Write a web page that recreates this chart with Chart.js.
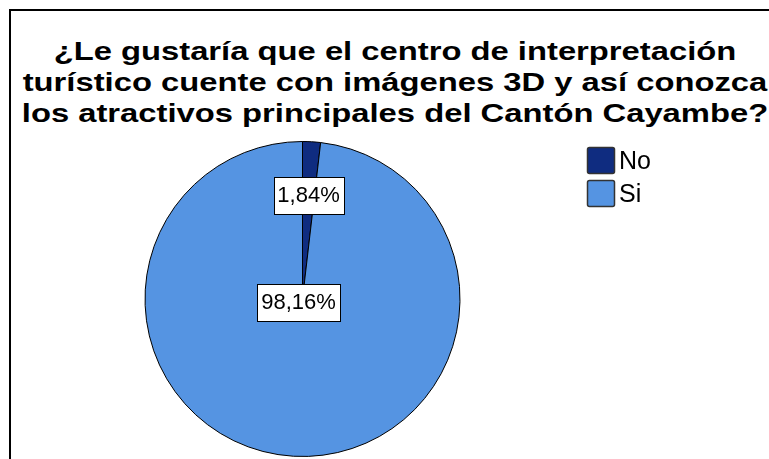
<!DOCTYPE html>
<html>
<head>
<meta charset="utf-8">
<script src="https://cdn.jsdelivr.net/npm/chart.js@4/dist/chart.umd.min.js"></script>
<style>
  html, body { margin: 0; padding: 0; background: #fff; overflow: hidden; }
  #wrap { position: relative; width: 769px; height: 459px; overflow: hidden; }
  #frame { position: absolute; left: 9px; top: 9px; width: 800px; height: 500px;
           border-left: 2px solid #000; border-top: 2px solid #000; }
  #title { position: absolute; left: 0; top: 36px; width: 790px; text-align: center;
           font: bold 26px "Liberation Sans", Arial, sans-serif; line-height: 31px; color: #000;
           transform: scaleX(1.26); transform-origin: 395px 0; white-space: nowrap; }
  #chart { position: absolute; left: 0; top: 0; }
</style>
</head>
<body>
<div id="wrap">
  <div id="frame"></div>
  <div id="title">¿Le gustaría que el centro de interpretación<br>turístico cuente con imágenes 3D y así conozca<br>los atractivos principales del Cantón Cayambe?</div>
  <canvas id="chart" width="769" height="459"></canvas>
</div>
<script>
const categories = ["No", "Si"];
const percents = [1.84, 98.16];
const colors = ["#0f2c80", "#5594e2"];

// boxed percentage labels, like the SPSS output
const boxLabels = {
  id: "boxLabels",
  afterDatasetsDraw(chart) {
    const ctx = chart.ctx;
    const meta = chart.getDatasetMeta(0);
    const total = percents.reduce((a, b) => a + b, 0);
    ctx.save();
    ctx.font = "22px 'Liberation Sans', Arial, sans-serif";
    ctx.textAlign = "center";
    ctx.textBaseline = "middle";
    meta.data.forEach((arc, i) => {
      const share = percents[i] / total;
      const mid = (arc.startAngle + arc.endAngle) / 2;
      let x, y;
      if (share < 0.5) {
        x = arc.x + Math.cos(mid) * arc.outerRadius * 0.66;
        y = arc.y + Math.sin(mid) * arc.outerRadius * 0.66;
      } else {
        x = arc.x - 4;
        y = arc.y + 3;
      }
      const txt = percents[i].toFixed(2).replace(".", ",") + "%";
      const w = Math.round(ctx.measureText(txt).width + 8);
      const h = 37;
      const bx = Math.round(x - w / 2) + 0.5, by = Math.round(y - h / 2) + 0.5;
      ctx.fillStyle = "#fff";
      ctx.fillRect(bx, by, w, h);
      ctx.strokeStyle = "#000";
      ctx.lineWidth = 1;
      ctx.strokeRect(bx, by, w, h);
      ctx.fillStyle = "#000";
      ctx.fillText(txt, x, y + 1);
    });
    ctx.restore();
  }
};

// legend to the right of the pie
const sideLegend = {
  id: "sideLegend",
  afterDraw(chart) {
    const ctx = chart.ctx;
    ctx.save();
    ctx.font = "25px 'Liberation Sans', Arial, sans-serif";
    ctx.textBaseline = "alphabetic";
    categories.forEach((c, i) => {
      const y = 147 + i * 33;
      ctx.fillStyle = colors[i];
      ctx.strokeStyle = "#333";
      ctx.lineWidth = 1.5;
      ctx.beginPath();
      ctx.roundRect(587.5, y + 0.5, 27, 26, 2);
      ctx.fill();
      ctx.stroke();
      ctx.fillStyle = "#000";
      ctx.fillText(c, 619, y + 22);
    });
    ctx.restore();
  }
};

new Chart(document.getElementById("chart").getContext("2d"), {
  type: "pie",
  data: {
    labels: categories,
    datasets: [{ data: percents, backgroundColor: colors, borderColor: "#000", borderWidth: 1 }]
  },
  options: {
    responsive: false,
    animation: false,
    layout: { padding: { top: 141, bottom: 2, left: 26, right: 190 } },
    plugins: {
      title: { display: false },
      tooltip: { enabled: false },
      legend: { display: false }
    }
  },
  plugins: [boxLabels, sideLegend]
});
</script>
</body>
</html>
